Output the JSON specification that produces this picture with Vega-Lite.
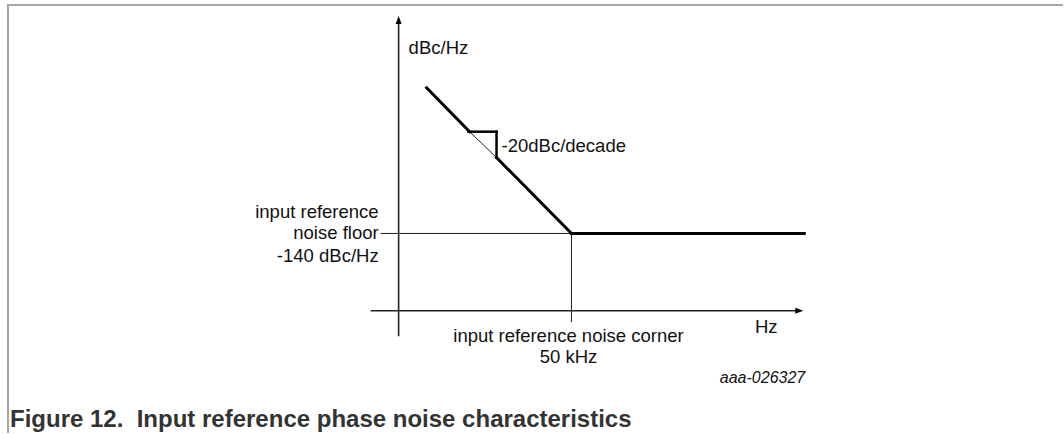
{
  "$schema": "https://vega.github.io/schema/vega-lite/v6.json",
  "width": 1064,
  "height": 434,
  "padding": 0,
  "autosize": {"type": "fit", "contains": "padding"},
  "background": "white",
  "config": {"view": {"stroke": null}, "font": "Liberation Sans"},
  "datasets": {
    "frame": [
      {"x": 7, "y": 429, "x2": 1064, "y2": 429},
      {"x": 8, "y": 429, "x2": 8, "y2": 0}
    ],
    "axes": [
      {"x": 399, "y": 97, "x2": 399, "y2": 412},
      {"x": 371, "y": 122.5, "x2": 798, "y2": 122.5}
    ],
    "thin": [
      {"x": 381, "y": 200, "x2": 572, "y2": 200},
      {"x": 572, "y": 200, "x2": 572, "y2": 111},
      {"x": 470, "y": 302, "x2": 497, "y2": 276}
    ],
    "thick": [
      {"x": 427, "y": 346, "x2": 470, "y2": 302},
      {"x": 497, "y": 276, "x2": 572, "y2": 200},
      {"x": 572, "y": 200, "x2": 805, "y2": 200}
    ],
    "legs": [
      {"x": 469, "y": 302, "x2": 497, "y2": 302},
      {"x": 497, "y": 302, "x2": 497, "y2": 276}
    ],
    "arrows": [
      {"x": 399, "y": 414, "dir": "up"},
      {"x": 800, "y": 122.5, "dir": "right"}
    ],
    "labels": [
      {"x": 409, "y": 386, "text": "dBc/Hz", "pos": "left"},
      {"x": 502, "y": 288, "text": "-20dBc/decade", "pos": "left"},
      {"x": 379, "y": 222, "text": "input reference", "pos": "right"},
      {"x": 379, "y": 200, "text": "noise floor", "pos": "right"},
      {"x": 379, "y": 177, "text": "-140 dBc/Hz", "pos": "right"},
      {"x": 569, "y": 97, "text": "input reference noise corner", "pos": "center"},
      {"x": 569, "y": 76, "text": "50 kHz", "pos": "center"},
      {"x": 767, "y": 106, "text": "Hz", "pos": "center"}
    ],
    "code": [{"x": 806, "y": 55, "text": "aaa-026327"}],
    "caption": [{"x": 10, "y": 13, "text": "Figure 12.\u00a0 Input reference phase noise characteristics"}]
  },
  "encoding": {
    "x": {"field": "x", "type": "quantitative", "scale": {"domain": [0, 1064], "nice": false, "zero": false}, "axis": null},
    "y": {"field": "y", "type": "quantitative", "scale": {"domain": [0, 434], "nice": false, "zero": false}, "axis": null}
  },
  "layer": [
    {
      "data": {"name": "frame"},
      "mark": {"type": "rule", "stroke": "#a6a6a6", "strokeWidth": 2},
      "encoding": {"x2": {"field": "x2"}, "y2": {"field": "y2"}}
    },
    {
      "data": {"name": "axes"},
      "mark": {"type": "rule", "stroke": "#222222", "strokeWidth": 1.6},
      "encoding": {"x2": {"field": "x2"}, "y2": {"field": "y2"}}
    },
    {
      "data": {"name": "thin"},
      "mark": {"type": "rule", "stroke": "#222222", "strokeWidth": 1},
      "encoding": {"x2": {"field": "x2"}, "y2": {"field": "y2"}}
    },
    {
      "data": {"name": "thick"},
      "mark": {"type": "rule", "stroke": "#000000", "strokeWidth": 3, "strokeCap": "square"},
      "encoding": {"x2": {"field": "x2"}, "y2": {"field": "y2"}}
    },
    {
      "data": {"name": "legs"},
      "mark": {"type": "rule", "stroke": "#000000", "strokeWidth": 2.5, "strokeCap": "square"},
      "encoding": {"x2": {"field": "x2"}, "y2": {"field": "y2"}}
    },
    {
      "data": {"name": "arrows"},
      "mark": {"type": "point", "filled": true, "size": 64, "color": "#000000", "opacity": 1},
      "encoding": {
        "shape": {"field": "dir", "type": "nominal", "legend": null,
          "scale": {"domain": ["up", "right"], "range": ["M0,-1L0.75,1L-0.75,1Z", "M1,0L-1,0.75L-1,-0.75Z"]}}
      }
    },
    {
      "data": {"name": "labels"},
      "transform": [{"filter": "datum.pos === 'left'"}],
      "mark": {"type": "text", "align": "left", "baseline": "middle", "fontSize": 18.5, "color": "#111111"},
      "encoding": {"text": {"field": "text"}}
    },
    {
      "data": {"name": "labels"},
      "transform": [{"filter": "datum.pos === 'right'"}],
      "mark": {"type": "text", "align": "right", "baseline": "middle", "fontSize": 18.5, "color": "#111111"},
      "encoding": {"text": {"field": "text"}}
    },
    {
      "data": {"name": "labels"},
      "transform": [{"filter": "datum.pos === 'center'"}],
      "mark": {"type": "text", "align": "center", "baseline": "middle", "fontSize": 18.5, "color": "#111111"},
      "encoding": {"text": {"field": "text"}}
    },
    {
      "data": {"name": "code"},
      "mark": {"type": "text", "align": "right", "baseline": "middle", "fontSize": 16, "fontStyle": "italic", "color": "#111111"},
      "encoding": {"text": {"field": "text"}}
    },
    {
      "data": {"name": "caption"},
      "mark": {"type": "text", "align": "left", "baseline": "middle", "fontSize": 24, "fontWeight": "bold", "color": "#333333"},
      "encoding": {"text": {"field": "text"}}
    }
  ]
}
